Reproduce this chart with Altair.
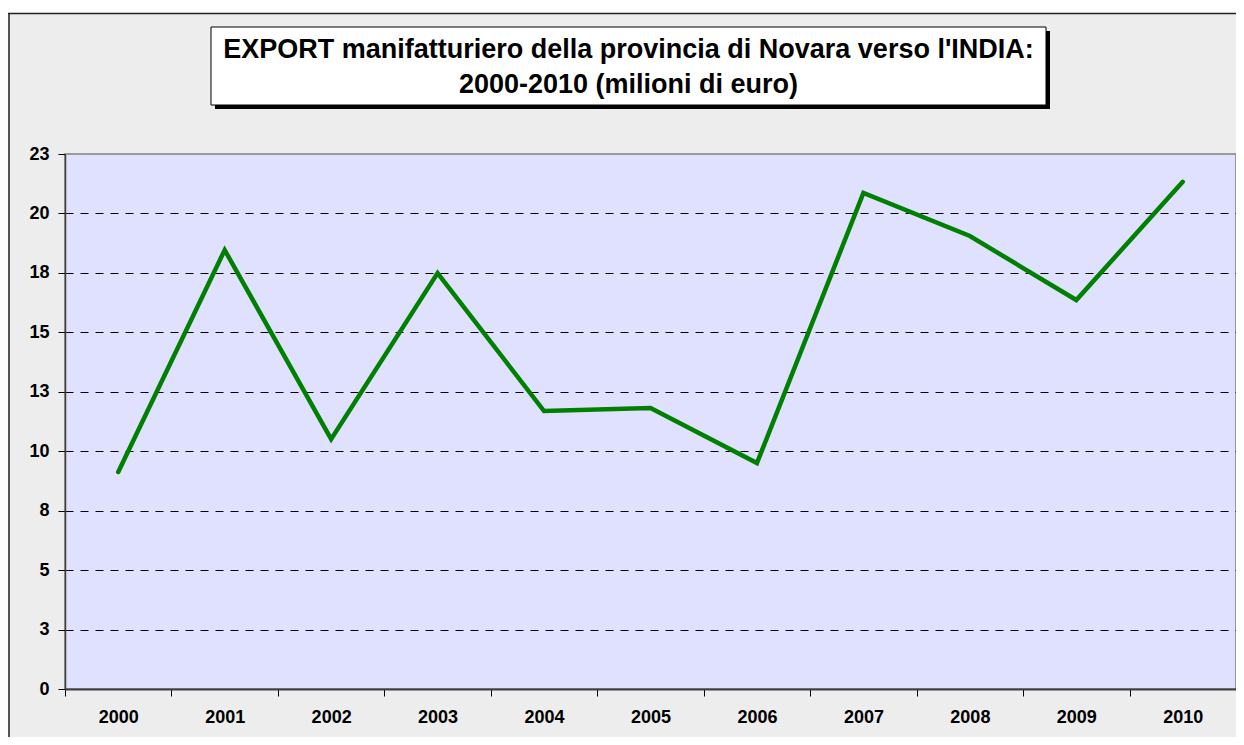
import altair as alt
import pandas as pd

# ---- data ----
years = ["2000", "2001", "2002", "2003", "2004", "2005", "2006", "2007", "2008", "2009", "2010"]
values = [9.13, 18.46, 10.51, 17.49, 11.69, 11.82, 9.50, 20.86, 19.05, 16.36, 21.33]
y_ticks = [0, 2.5, 5, 7.5, 10, 12.5, 15, 17.5, 20, 22.5]
title_lines = [
    "EXPORT manifatturiero della provincia di Novara verso l'INDIA:",
    "2000-2010 (milioni di euro)",
]

W, H = 1171, 535
PAD_L, PAD_T, PAD_B = 57, 146, 48
FONT = "Liberation Sans"

df = pd.DataFrame({"anno": years, "valore": values})
one = pd.DataFrame({"k": [0]})

line = alt.Chart(df).mark_line(
    color="#008000", strokeWidth=4.5, strokeCap="round", strokeJoin="miter"
).encode(
    x=alt.X(
        "anno:O",
        sort=years,
        scale=alt.Scale(type="band", paddingInner=0, paddingOuter=0),
        axis=alt.Axis(
            title=None, labelAngle=0, tickBand="extent", tickSize=7, tickColor="black",
            labelPadding=12, domainColor="#404040", domainWidth=2, grid=False,
        ),
    ),
    y=alt.Y(
        "valore:Q",
        scale=alt.Scale(domain=[0, 22.5], nice=False, zero=True),
        axis=alt.Axis(
            title=None, values=y_ticks, format=".0f", tickSize=7, tickColor="black",
            labelPadding=9, domainColor="#404040", domainWidth=1.5,
            grid=True, gridColor="black", gridDash=[8, 7], gridWidth=1,
            gridOpacity={"condition": {"test": "datum.value == 0 || datum.value >= 22.5", "value": 0}, "value": 1},
        ),
    ),
)

strip = alt.Chart(one).mark_rect(fill="white").encode(
    x=alt.value(-PAD_L), x2=alt.value(W), y=alt.value(-PAD_T), y2=alt.value(-141)
)
frame_left = alt.Chart(one).mark_rule(color="#222222", strokeWidth=1.5).encode(
    x=alt.value(-56), y=alt.value(-141), y2=alt.value(H + PAD_B)
)
frame_top = alt.Chart(one).mark_rule(color="#222222", strokeWidth=1.5).encode(
    x=alt.value(-PAD_L), x2=alt.value(W), y=alt.value(-140.5)
)
shadow = alt.Chart(one).mark_rect(fill="black").encode(
    x=alt.value(150), x2=alt.value(985), y=alt.value(-123), y2=alt.value(-45)
)
box = alt.Chart(one).mark_rect(fill="white", stroke="black", strokeWidth=1).encode(
    x=alt.value(146), x2=alt.value(981), y=alt.value(-127), y2=alt.value(-49)
)
t1 = alt.Chart(one).mark_text(
    font=FONT, fontSize=27, fontWeight="bold", align="center", baseline="alphabetic", color="black"
).encode(x=alt.value(563.5), y=alt.value(-96), text=alt.value(title_lines[0]))
t2 = alt.Chart(one).mark_text(
    font=FONT, fontSize=27, fontWeight="bold", align="center", baseline="alphabetic", color="black"
).encode(x=alt.value(563.5), y=alt.value(-61), text=alt.value(title_lines[1]))

chart = alt.layer(line, strip, frame_left, frame_top, shadow, box, t1, t2).properties(
    width=W,
    height=H,
    autosize=alt.AutoSizeParams(type="none"),
    padding={"left": PAD_L, "top": PAD_T, "right": 0, "bottom": PAD_B},
).configure(
    background="#EDEDED"
).configure_view(
    fill="#E0E0FF", stroke="#808080", strokeWidth=1.5
).configure_axis(
    labelFont=FONT, labelFontSize=18, labelFontWeight="bold", labelColor="black"
)

chart.save("out.html", embed_options={"renderer": "svg", "actions": False})
